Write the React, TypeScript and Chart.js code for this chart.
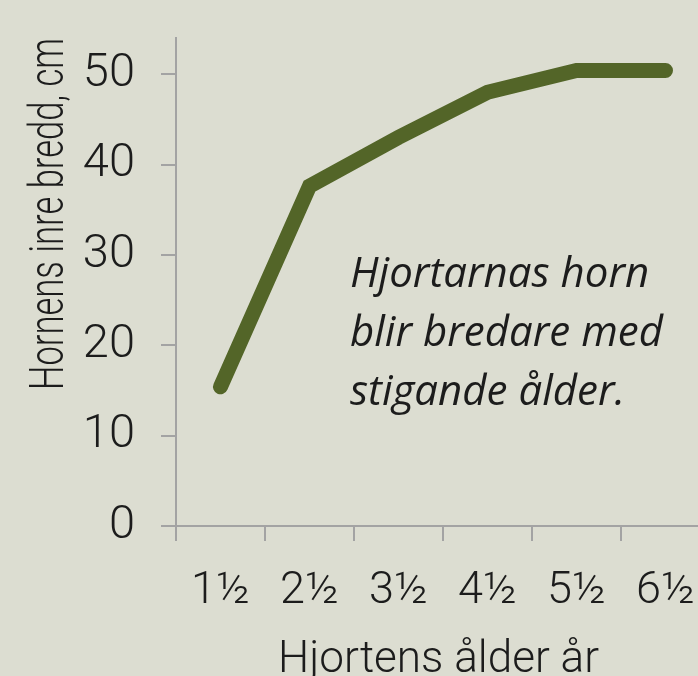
import React, { useEffect, useRef } from "react";
import { Chart, registerables } from "chart.js";

Chart.register(...registerables);

// ---- data ----
const ages = ["1½", "2½", "3½", "4½", "5½", "6½"];
const hornWidth = [15.4, 37.6, 43.0, 48.0, 50.4, 50.4];
const yTickValues = [0, 10, 20, 30, 40, 50];
const yAxisTitle = "Hornens inre bredd, cm";
const xAxisTitle = "Hjortens ålder år";
const noteLines = ["Hjortarnas horn", "blir bredare med", "stigande ålder."];

const BG = "#dcddd1";
const LINE = "#536528";
const AXIS = "#a3a3a3";
const TEXT = "#1c1c1c";
const LIGHT_FONT = "Roboto, 'Open Sans', sans-serif";

const bgPlugin = {
  id: "bg",
  beforeDraw(chart: any) {
    const { ctx, width, height } = chart;
    ctx.save();
    ctx.fillStyle = BG;
    ctx.fillRect(0, 0, width, height);
    ctx.restore();
  },
};

function drawFitted(ctx: any, text: string, targetWidth: number) {
  const w = ctx.measureText(text).width;
  const sx = targetWidth / w;
  ctx.save();
  ctx.scale(sx, 1);
  ctx.fillText(text, 0, 0);
  ctx.restore();
}

const textPlugin = {
  id: "texts",
  afterDraw(chart: any) {
    const { ctx } = chart;
    const area = chart.chartArea;
    ctx.save();
    ctx.fillStyle = TEXT;
    ctx.textBaseline = "alphabetic";
    ctx.textAlign = "left";

    // x axis title
    ctx.font = `300 45px ${LIGHT_FONT}`;
    ctx.save();
    ctx.translate(area.left + 102, 672);
    drawFitted(ctx, xAxisTitle, 321);
    ctx.restore();

    // y axis title (rotated)
    ctx.font = `300 49px ${LIGHT_FONT}`;
    ctx.save();
    ctx.translate(63, 390);
    ctx.rotate(-Math.PI / 2);
    drawFitted(ctx, yAxisTitle, 352);
    ctx.restore();

    // annotation
    ctx.font = `italic 400 42px 'Open Sans', 'Noto Sans', sans-serif`;
    const baselines = [287, 346, 405];
    noteLines.forEach((t, i) => {
      ctx.fillText(t, 350, baselines[i]);
    });
    ctx.restore();
  },
};

export default function App() {
  const ref = useRef<HTMLCanvasElement | null>(null);

  useEffect(() => {
    if (!ref.current) return;
    const chart = new Chart(ref.current, {
      type: "line",
      data: {
        labels: ages,
        datasets: [
          {
            data: hornWidth,
            borderColor: LINE,
            backgroundColor: LINE,
            borderWidth: 15,
            borderCapStyle: "round",
            borderJoinStyle: "miter",
            pointRadius: 0,
            pointHoverRadius: 0,
            tension: 0,
            fill: false,
          },
        ],
      },
      options: {
        responsive: false,
        animation: false,
        events: [],
        layout: { padding: { top: 38, right: 10, left: 0, bottom: 0 } },
        plugins: {
          legend: { display: false },
          tooltip: { enabled: false },
          title: { display: false },
        },
        scales: {
          x: {
            type: "category",
            offset: true,
            afterFit: (s: any) => {
              s.height = 150;
              s.paddingLeft = 0;
              s.paddingRight = 0;
            },
            grid: {
              offset: true,
              drawOnChartArea: false,
              drawTicks: true,
              tickLength: 15,
              color: AXIS,
              lineWidth: 2,
            },
            border: { display: true, color: AXIS, width: 2 },
            ticks: {
              color: TEXT,
              padding: 24,
              maxRotation: 0,
              font: { family: LIGHT_FONT, weight: "300", size: 45 },
            },
          },
          y: {
            min: 0,
            max: 54,
            afterBuildTicks: (s: any) => {
              s.ticks = yTickValues.map((v) => ({ value: v }));
            },
            afterFit: (s: any) => {
              s.width = 176;
              s.paddingTop = 0;
              s.paddingBottom = 0;
            },
            grid: {
              drawOnChartArea: false,
              drawTicks: true,
              tickLength: 15,
              color: AXIS,
              lineWidth: 2,
            },
            border: { display: true, color: AXIS, width: 2 },
            ticks: {
              color: TEXT,
              padding: 26,
              font: { family: LIGHT_FONT, weight: "300", size: 47 },
            },
          },
        },
      },
      plugins: [bgPlugin, textPlugin],
    });
    return () => chart.destroy();
  }, []);

  return (
    <div
      style={{
        position: "fixed",
        left: 0,
        top: 0,
        width: 698,
        height: 676,
        overflow: "hidden",
        background: BG,
      }}
    >
      <canvas ref={ref} width={720} height={676} style={{ display: "block", width: 720, height: 676 }} />
    </div>
  );
}
